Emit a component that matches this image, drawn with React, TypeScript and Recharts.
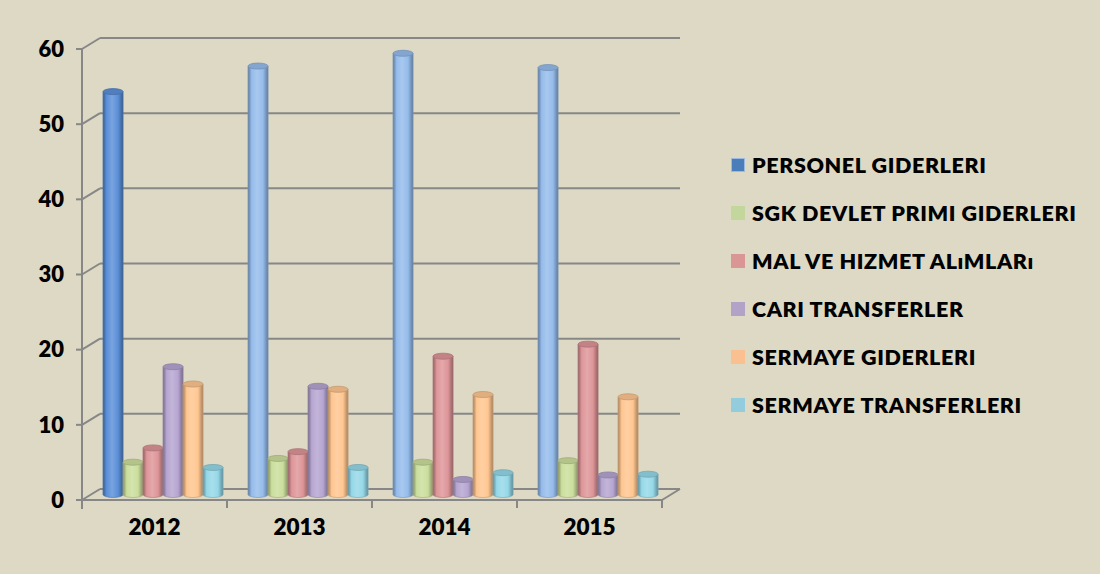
import React from 'react';
import { BarChart, Bar, XAxis, YAxis, CartesianGrid, Legend, Cell } from 'recharts';

const years = ['2012', '2013', '2014', '2015'];
const personel = [53.6, 57.0, 58.7, 56.8];
const sgk = [4.3, 4.8, 4.3, 4.5];
const mal = [6.2, 5.7, 18.4, 20.0];
const cari = [17.0, 14.4, 2.0, 2.6];
const sermayeGid = [14.7, 14.0, 13.3, 13.0];
const sermayeTr = [3.6, 3.6, 2.9, 2.7];
const yTicks = [0, 10, 20, 30, 40, 50, 60];

const seriesKeys = ['personel', 'sgk', 'mal', 'cari', 'sermayeGid', 'sermayeTr'];
const seriesNames = [
  'PERSONEL GIDERLERI',
  'SGK DEVLET PRIMI GIDERLERI',
  'MAL VE HIZMET ALıMLARı',
  'CARI TRANSFERLER',
  'SERMAYE GIDERLERI',
  'SERMAYE TRANSFERLERI',
];
const legendColors = ['#4A7EBB', '#C3D69B', '#D99694', '#B3A2C7', '#FAC090', '#93CDDD'];
const barColors = ['#5B8FD8', '#CBDE9C', '#DE9598', '#B6A5D1', '#FFC690', '#95D8E8'];
const personelColors = ['#5B8FD8', '#95BCEC', '#95BCEC', '#95BCEC'];

const data = years.map((y, i) => ({
  year: y,
  personel: personel[i],
  sgk: sgk[i],
  mal: mal[i],
  cari: cari[i],
  sermayeGid: sermayeGid[i],
  sermayeTr: sermayeTr[i],
}));

const FONT = 'Lato, "Open Sans", sans-serif';
const GRID = '#878787';
const DX = 18; // depth offset of back wall
const DY = -11;
const BAR_DX = 8;
const BAR_DY = -5.5;
const PLOT_BOTTOM = 500;
const BAND = 145;

function mix(hex: string, target: number, t: number) {
  const n = parseInt(hex.slice(1), 16);
  const r = (n >> 16) & 255, g = (n >> 8) & 255, b = n & 255;
  const f = (c: number) => Math.round(c + (target - c) * t);
  return `rgb(${f(r)},${f(g)},${f(b)})`;
}

const makeShape = (key: string) => (props: any) => {
  const { x, y, width, height, fill, index } = props;
  if (width == null || height == null) return <g />;
  const bx = x + BAR_DX;
  const by = y + BAR_DY;
  const w = width;
  const h = height;
  const rx = w / 2;
  const ry = 3;
  const id = `cyl-${key}-${index}`;
  const dark = mix(fill, 0, 0.35);
  const edge = mix(fill, 0, 0.22);
  const light = mix(fill, 255, 0.18);
  return (
    <g>
      <defs>
        <linearGradient id={id} x1="0" y1="0" x2="1" y2="0">
          <stop offset="0" stopColor={dark} />
          <stop offset="0.18" stopColor={fill} />
          <stop offset="0.45" stopColor={light} />
          <stop offset="0.75" stopColor={fill} />
          <stop offset="1" stopColor={dark} />
        </linearGradient>
      </defs>
      <ellipse cx={bx + rx} cy={by + h} rx={rx} ry={ry} fill={`url(#${id})`} stroke={edge} strokeWidth={0.6} />
      <rect x={bx} y={by} width={w} height={h} fill={`url(#${id})`} />
      <line x1={bx} y1={by} x2={bx} y2={by + h} stroke={edge} strokeWidth={0.8} />
      <line x1={bx + w} y1={by} x2={bx + w} y2={by + h} stroke={edge} strokeWidth={0.8} />
      <ellipse cx={bx + rx} cy={by} rx={rx} ry={ry} fill={mix(fill, 0, 0.12)} stroke={edge} strokeWidth={0.8} />
    </g>
  );
};

const gridLine = (props: any) => {
  const { x1, x2, y1, index } = props;
  const y = y1;
  const isFloor = Math.abs(y - PLOT_BOTTOM) < 1;
  return (
    <g key={`gl-${index}-${y}`}>
      <line x1={x1 + DX} y1={y + DY} x2={x2 + DX} y2={y + DY} stroke={GRID} strokeWidth={2} />
      <line x1={x1} y1={y} x2={x1 + DX} y2={y + DY} stroke={GRID} strokeWidth={2} />
      {isFloor && (
        <g>
          <line x1={x2} y1={y} x2={x2 + DX} y2={y + DY} stroke={GRID} strokeWidth={2} />
          <line x1={x1} y1={y} x2={x1} y2={y + 9} stroke={GRID} strokeWidth={2} />
        </g>
      )}
    </g>
  );
};

const XTick = (props: any) => {
  const { x, payload, index } = props;
  const left = x - BAND / 2;
  return (
    <g>
      <line x1={left} y1={PLOT_BOTTOM} x2={left} y2={PLOT_BOTTOM + 8} stroke={GRID} strokeWidth={2} />
      {index === years.length - 1 && (
        <line x1={x + BAND / 2} y1={PLOT_BOTTOM} x2={x + BAND / 2} y2={PLOT_BOTTOM + 8} stroke={GRID} strokeWidth={2} />
      )}
      <text x={x} y={PLOT_BOTTOM + 35} textAnchor="middle" fontFamily={FONT} fontWeight={800} fontSize={22.5} fill="#000">
        {payload.value}
      </text>
    </g>
  );
};

const renderLegend = () => (
  <div style={{ fontFamily: FONT }}>
    {seriesNames.map((name, i) => (
      <div key={name} style={{ display: 'flex', alignItems: 'center', height: 48 }}>
        <div
          style={{
            width: i === 0 ? 12 : 14,
            height: i === 0 ? 12 : 14,
            background: legendColors[i],
            border: i === 0 ? '1px solid #9DB9E0' : 'none',
            marginRight: 7,
            flexShrink: 0,
          }}
        />
        <span style={{ fontWeight: 800, fontSize: 21.5, letterSpacing: 0.6, color: '#000', whiteSpace: 'nowrap' }}>{name}</span>
      </div>
    ))}
  </div>
);

export default function App() {
  return (
    <div style={{ position: 'absolute', left: 0, top: 0, width: 1100, height: 574, background: '#DDD9C4' }}>
      <BarChart
        width={1100}
        height={574}
        data={data}
        margin={{ top: 49, right: 438, bottom: 34, left: 0 }}
        barCategoryGap="9%"
        barGap={0}
      >
        <CartesianGrid horizontal={gridLine} vertical={false} />
        <XAxis
          dataKey="year"
          height={40}
          axisLine={{ stroke: GRID, strokeWidth: 2 }}
          tickLine={false}
          tick={<XTick />}
          interval={0}
        />
        <YAxis
          width={82}
          domain={[0, 60]}
          ticks={yTicks}
          axisLine={{ stroke: GRID, strokeWidth: 2 }}
          tickLine={{ stroke: GRID, strokeWidth: 2 }}
          tickSize={6}
          tickMargin={12}
          tick={{ fill: '#000', fontSize: 22, fontWeight: 800, fontFamily: FONT }}
        />
        <Legend
          layout="vertical"
          align="center"
          verticalAlign="middle"
          content={renderLegend}
          wrapperStyle={{ position: 'absolute', left: 731, top: 141, width: 369 }}
        />
        {seriesKeys.map((key, si) => (
          <Bar
            key={key}
            dataKey={key}
            name={seriesNames[si]}
            fill={barColors[si]}
            isAnimationActive={false}
            shape={makeShape(key)}
          >
            {data.map((d, i) => (
              <Cell key={`${key}-${i}`} fill={si === 0 ? personelColors[i] : barColors[si]} />
            ))}
          </Bar>
        ))}
      </BarChart>
    </div>
  );
}
